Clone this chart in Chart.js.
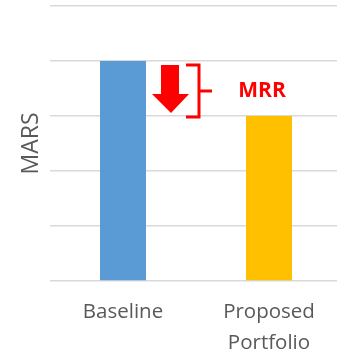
<!DOCTYPE html>
<html>
<head>
<meta charset="utf-8">
<script src="https://cdn.jsdelivr.net/npm/chart.js@4/dist/chart.umd.min.js"></script>
<style>
  html, body { margin: 0; padding: 0; background: #fff; overflow: hidden; }
  #wrap { width: 342px; height: 351px; position: relative; }
</style>
</head>
<body>
<div id="wrap"><canvas id="c"></canvas></div>
<script>
// Categories and MARS values
const categories = ['Baseline', ['Proposed', 'Portfolio']];
const marsValues = [4, 3];
const barColors = ['#5B9BD5', '#FFC000'];
const axisTitle = 'MARS';
const gapLabel = 'MRR';

// Red arrow + bracket showing the reduction between the two bars
const reductionMarker = {
  id: 'reductionMarker',
  afterDatasetsDraw(chart) {
    const { ctx, scales: { x, y } } = chart;
    const yTop = y.getPixelForValue(marsValues[0]);
    const yBot = y.getPixelForValue(marsValues[1]);
    const x0 = x.getPixelForValue(0);
    ctx.save();
    ctx.fillStyle = '#FF0000';
    ctx.strokeStyle = '#FF0000';

    // down arrow
    const headY = yTop + 33;
    ctx.beginPath();
    ctx.moveTo(x0 + 38, yTop + 4);
    ctx.lineTo(x0 + 56, yTop + 4);
    ctx.lineTo(x0 + 56, headY);
    ctx.lineTo(x0 + 66, headY);
    ctx.lineTo(x0 + 48, yBot - 3);
    ctx.lineTo(x0 + 29, headY);
    ctx.lineTo(x0 + 38, headY);
    ctx.closePath();
    ctx.fill();

    // bracket
    ctx.lineWidth = 3;
    ctx.lineJoin = 'miter';
    ctx.beginPath();
    ctx.moveTo(x0 + 63, yTop + 4);
    ctx.lineTo(x0 + 76, yTop + 4);
    ctx.lineTo(x0 + 76, yBot + 1);
    ctx.lineTo(x0 + 63, yBot + 1);
    ctx.stroke();
    const midY = (yTop + 4 + yBot + 1) / 2;
    ctx.beginPath();
    ctx.moveTo(x0 + 76, midY);
    ctx.lineTo(x0 + 89, midY);
    ctx.stroke();

    // label
    ctx.font = 'bold 21px "Open Sans", sans-serif';
    ctx.textAlign = 'center';
    ctx.textBaseline = 'middle';
    ctx.fillText(gapLabel, x0 + 139, midY);
    ctx.restore();
  }
};

new Chart(document.getElementById('c'), {
  type: 'bar',
  data: {
    labels: categories,
    datasets: [{
      data: marsValues,
      backgroundColor: barColors,
      borderWidth: 0,
      categoryPercentage: 1,
      barPercentage: 0.315
    }]
  },
  options: {
    responsive: true,
    maintainAspectRatio: false,
    animation: false,
    events: [],
    layout: { padding: { top: 6, left: 0, right: 0, bottom: 0 } },
    plugins: { legend: { display: false }, tooltip: { enabled: false } },
    scales: {
      x: {
        grid: { display: false, drawTicks: false },
        border: { display: false },
        ticks: {
          color: '#595959',
          padding: 16,
          maxRotation: 0,
          font: { family: '"Open Sans", sans-serif', size: 20.5, lineHeight: 1.5 }
        },
        afterFit(s) { s.height = 70; }
      },
      y: {
        min: 0,
        max: 5,
        ticks: { display: false, stepSize: 1 },
        grid: { color: '#D9D9D9', lineWidth: 1.5, drawTicks: false },
        border: { display: false },
        title: {
          display: true,
          text: axisTitle,
          color: '#595959',
          padding: { top: 18, bottom: 0 },
          font: { family: '"Open Sans", sans-serif', size: 23, lineHeight: 1.2 }
        },
        afterFit(s) { s.width = 50; }
      }
    }
  },
  plugins: [reductionMarker]
});
</script>
</body>
</html>
